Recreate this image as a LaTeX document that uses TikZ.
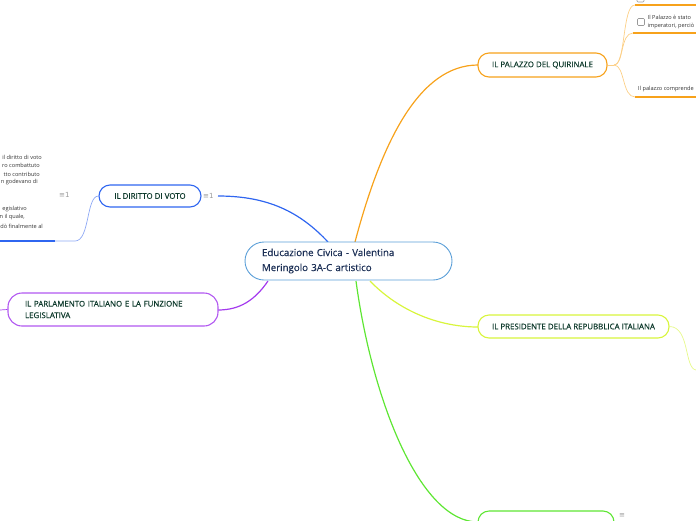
\documentclass[tikz,border=0pt]{standalone}
\usepackage{fontspec}
\setmainfont{Open Sans}
\newfontfamily\semib[FakeBold=0.35]{Open Sans}
\newfontfamily\dejavu{DejaVu Sans}
\definecolor{cblue}{HTML}{2F66F0}
\definecolor{lblue}{HTML}{8FA9F5}
\definecolor{corange}{HTML}{F7A21B}
\definecolor{lorange}{HTML}{FCCF86}
\definecolor{cpurple}{HTML}{A43AEE}
\definecolor{cyellow}{HTML}{D8F53C}
\definecolor{lyellow}{HTML}{E6F98A}
\definecolor{cgreen}{HTML}{5EE633}
\definecolor{cmain}{HTML}{5B9FD8}
\definecolor{tmain}{HTML}{1B2F55}
\definecolor{tnode}{HTML}{0E3A2C}
\definecolor{tsmall}{HTML}{333333}
\tikzset{
  topic/.style={draw, line width=1.1pt, rounded corners=11pt, fill=white, text=tnode,
     font=\semib\fontsize{7.9}{11.5}\selectfont, inner sep=0pt, align=left},
  small/.style={font=\fontsize{5.6}{6.5}\selectfont, text=tsmall, inner sep=0pt},
  conn/.style={line width=1.2pt},
  thin/.style={line width=0.7pt},
  icon/.style={font=\dejavu\fontsize{7}{8}\selectfont, text=gray!80, inner sep=0pt},
  cbox/.style={draw=gray!80, line width=0.6pt, rounded corners=1pt}
}
\begin{document}
\begin{tikzpicture}[x=1pt,y=-1pt]
\useasboundingbox (0,0) rectangle (696,520);
\clip (0,0) rectangle (696,520);
% coordinates on the central node
\coordinate (cb) at (328,242);
\coordinate (co) at (355,242);
\coordinate (cp) at (268,281);
\coordinate (cy) at (370,281);
\coordinate (cg) at (356,281);
% connectors from centre
\draw[conn, cblue] (cb) .. controls (300,212) and (268,196) .. (218,196);
\draw[conn, corange] (co) .. controls (382,140) and (420,65) .. (478,65);
\draw[conn, cpurple] (cp) .. controls (255,300) and (240,310) .. (218,310);
\draw[conn, cyellow] (cy) .. controls (400,312) and (440,327) .. (478,327);
\draw[conn, cgreen] (cg) .. controls (372,400) and (420,522) .. (478,522);
% central node
\node[draw=cmain, line width=0.9pt, rounded corners=19pt, minimum width=207pt, minimum height=38pt,
      fill=white, text=tmain, font=\semib\fontsize{9.7}{15}\selectfont, text width=173pt, align=left, inner sep=0pt]
   (c) at (348.5,261) {Educazione Civica - Valentina\\Meringolo 3A-C artistico};
% topic nodes
\node[topic, draw=corange, minimum width=129pt, minimum height=24pt, align=center] (quir) at (542.5,65) {IL PALAZZO DEL QUIRINALE};
\node[topic, draw=cblue, minimum width=102pt, minimum height=22pt, align=center] (voto) at (150,196) {IL DIRITTO DI VOTO};
\node[topic, draw=cpurple!85, minimum width=210pt, minimum height=33pt, text width=176pt, rounded corners=14pt] (parl) at (113,309.5) {IL PARLAMENTO ITALIANO E LA FUNZIONE\\LEGISLATIVA};
\node[topic, draw=cyellow, minimum width=191pt, minimum height=23pt, align=center] (pres) at (573.5,326.5) {IL PRESIDENTE DELLA REPUBBLICA ITALIANA};
\node[topic, draw=cgreen, minimum width=136pt, minimum height=24pt] (gr) at (546,523) {};
% icons
\node[icon, anchor=west] (vi) at (203,196) {≡1};
\node[icon, anchor=west] (li) at (59,195) {≡1};
\node[icon, anchor=west] (gi) at (619,516) {≡};
% purple stub left
\coordinate (pl) at (0,310);
\draw[thin, cpurple] (pl) -- (parl.west);
% left branch of voto
\coordinate (vl1) at (75,241);
\coordinate (vl2) at (55,241);
\coordinate (vl3) at (0,241);
\draw[thin, lblue] (voto.west) .. controls (86,196) and (90,241) .. (vl1) -- (vl2);
\draw[line width=1.4pt, cblue] (vl2) -- (vl3);
\node[small, anchor=east] (t1) at (42,157) {il diritto di voto};
\node[small, anchor=east] (t2) at (40,165.5) {ro combattuto};
\node[small, anchor=east] (t3) at (40,174) {tto contributo};
\node[small, anchor=east] (t4) at (38,182.5) {n godevano di};
\node[small, anchor=east] (t5) at (27,209) {egislativo};
\node[small, anchor=east] (t6) at (25,217.5) {n il quale,};
\node[small, anchor=east] (t7) at (43,226) {dò finalmente al};
% right branches of palazzo
\coordinate (qj) at (614,65);
\coordinate (q1) at (635,5);
\coordinate (q2) at (633,33);
\coordinate (q3) at (635,97);
\coordinate (e1) at (696,5);
\coordinate (e2) at (696,33);
\coordinate (e3) at (696,97);
\draw[thin, lorange] (quir.east) -- (qj);
\draw[thin, lorange] (qj) .. controls (626,65) and (622,5) .. (q1);
\draw[thin, lorange] (qj) .. controls (624,65) and (620,33) .. (q2);
\draw[thin, lorange] (qj) .. controls (625,65) and (622,97) .. (q3);
\draw[line width=1.3pt, corange] (q1) -- (e1);
\draw[line width=1.3pt, corange] (q2) -- (e2);
\draw[line width=1.3pt, corange] (q3) -- (e3);
\draw[cbox] (637,-4) rectangle (644,2);
\draw[cbox] (637.5,18.5) rectangle (644.5,25.5);
\node[small, anchor=west] (r1) at (647.5,17.5) {Il Palazzo è stato};
\node[small, anchor=west] (r2) at (647.5,26.5) {imperatori, perciò};
\node[small, anchor=west] (r3) at (638,89.5) {Il palazzo comprende};
% right branch of presidente
\coordinate (pe) at (696,370);
\draw[thin, lyellow] (pres.east) .. controls (690,327) and (684,368) .. (pe);
\end{tikzpicture}
\end{document}
